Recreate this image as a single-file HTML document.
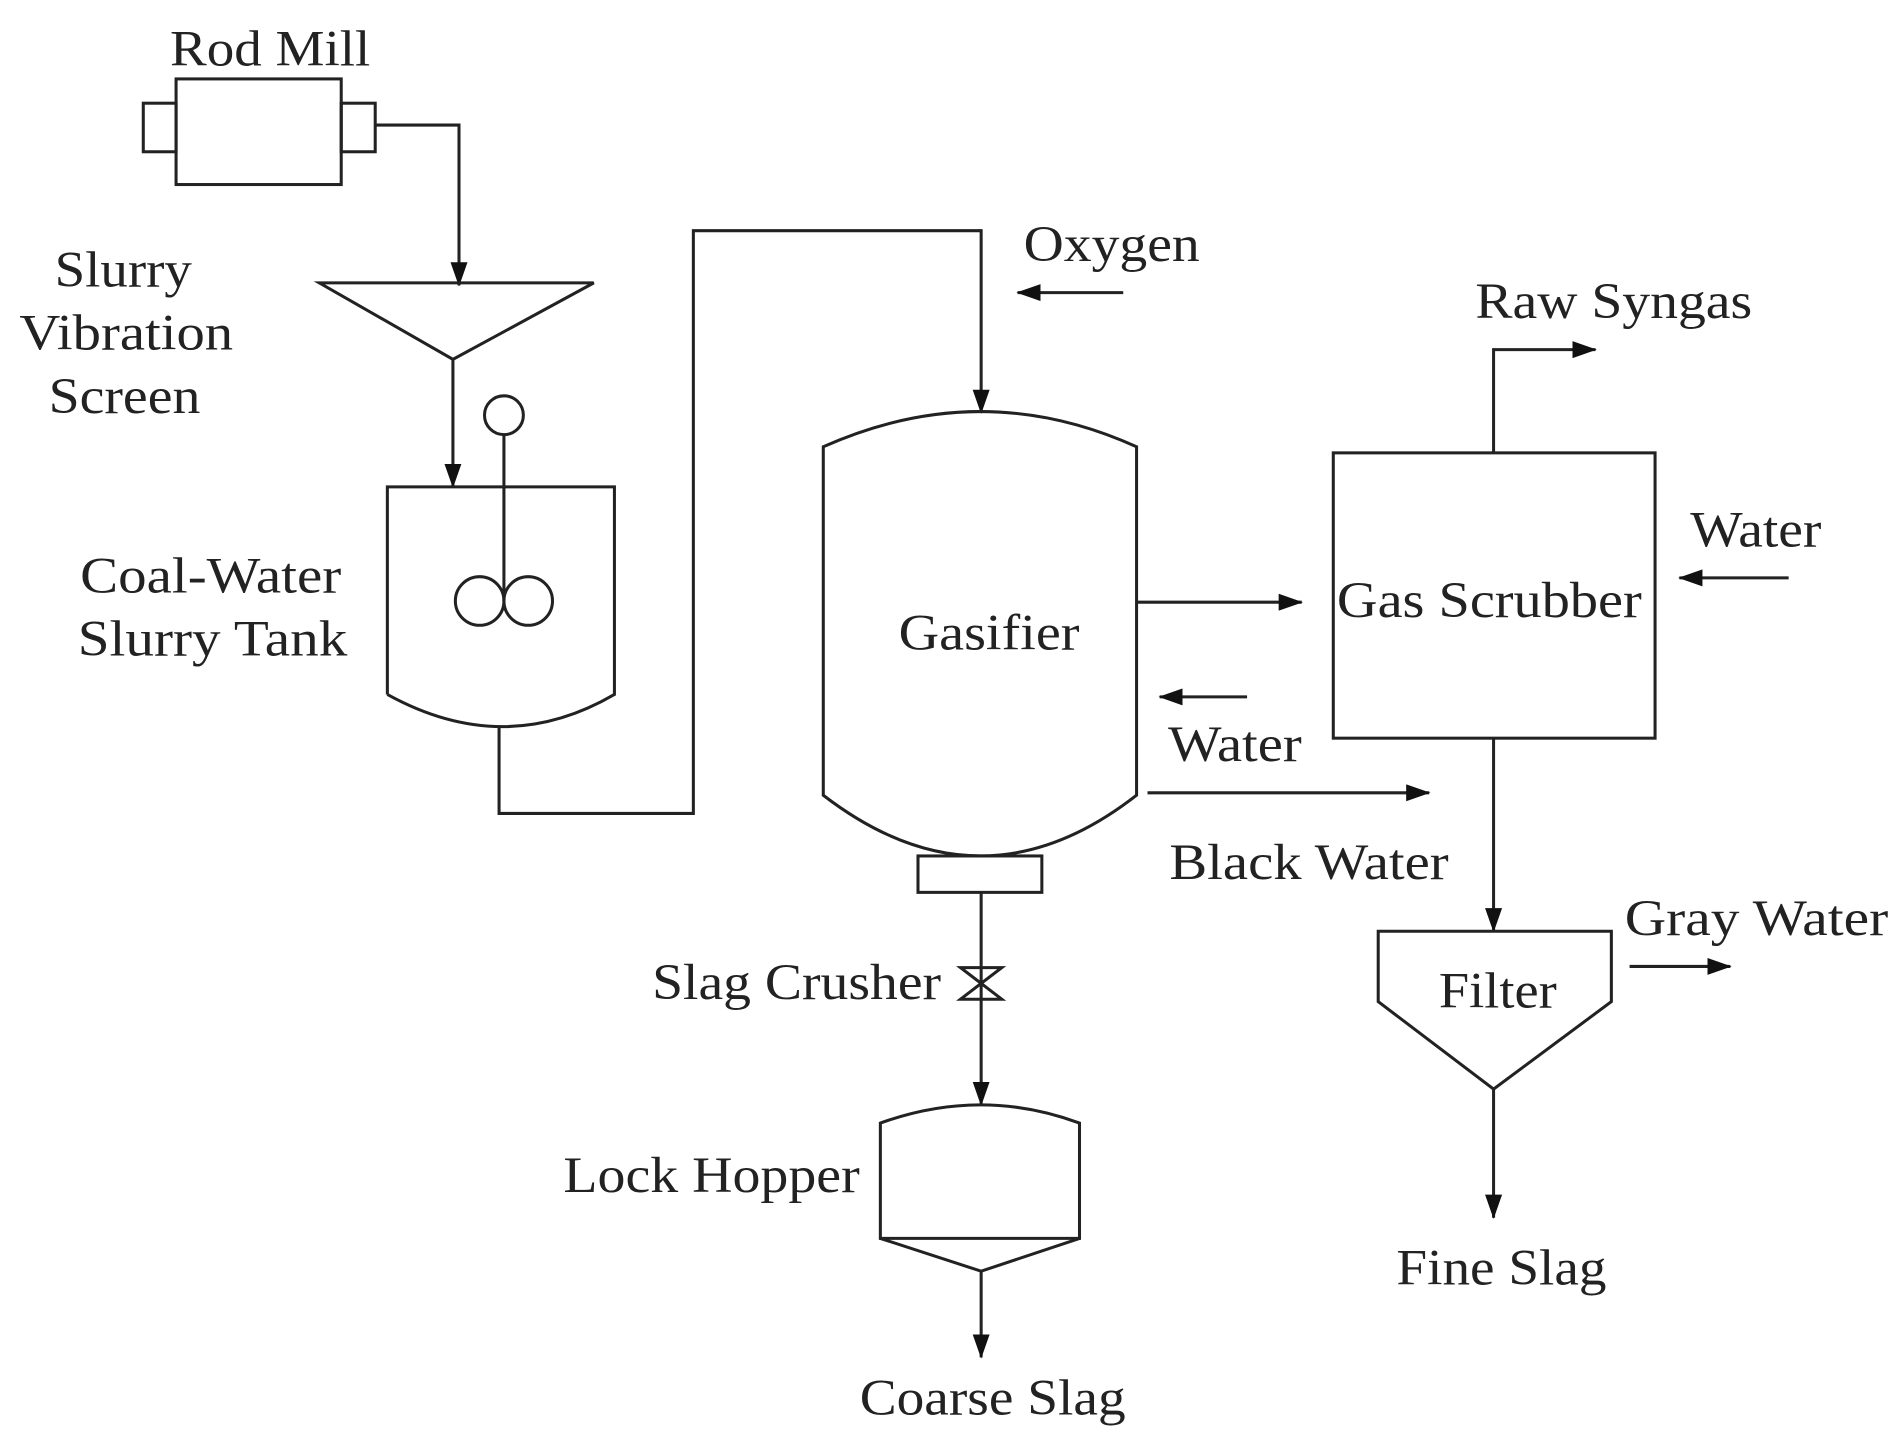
<!DOCTYPE html>
<html><head><style>html,body{margin:0;padding:0;background:#fff}svg{display:block}</style></head>
<body>
<svg width="1904" height="1446" viewBox="0 0 1568 1191" preserveAspectRatio="none" xmlns="http://www.w3.org/2000/svg">
<defs>
<marker id="b" markerWidth="20" markerHeight="14" refX="19" refY="7" orient="auto" markerUnits="userSpaceOnUse"><path d="M0,0L20,7L0,14z" fill="#111"/></marker></defs>
<g fill="none" stroke="#222" stroke-width="2.5">
<rect x="145" y="65" width="136" height="87"/>
<rect x="118" y="85" width="27" height="40"/>
<rect x="281" y="85" width="28" height="40"/>
<path d="M309,103H378V235" marker-end="url(#b)"/>
<path d="M263,233H489L373,296Z"/>
<path d="M373,296V401" marker-end="url(#b)"/>
<path d="M319,572V401H506V572Q415,625 319,572"/>
<circle cx="415" cy="342" r="16"/>
<path d="M415,358V495"/>
<circle cx="395" cy="495" r="20"/><circle cx="435" cy="495" r="20"/>
<path d="M411,598V670H571V190H808V340" marker-end="url(#b)"/>
<path d="M925,241H838" marker-end="url(#b)"/>
<path d="M678,368Q808,310 936,368V655Q808,755 678,655Z"/>
<rect x="756" y="705" width="102" height="30"/>
<path d="M808,735V910" marker-end="url(#b)"/>
<path d="M791,797H825L791,823H825Z"/>
<path d="M725,1020V925Q808,895 889,925V1020Z"/>
<path d="M725,1020L808,1047L889,1020"/>
<path d="M808,1047V1118" marker-end="url(#b)"/>
<path d="M936,496H1072" marker-end="url(#b)"/>
<path d="M1027,574H955" marker-end="url(#b)"/>
<path d="M945,653H1177" marker-end="url(#b)"/>
<rect x="1098" y="373" width="265" height="235"/>
<path d="M1230,373V288H1314" marker-end="url(#b)"/>
<path d="M1473,476H1383" marker-end="url(#b)"/>
<path d="M1230,608V767" marker-end="url(#b)"/>
<path d="M1135,767H1327V825L1230,897L1135,825Z"/>
<path d="M1342,796H1425" marker-end="url(#b)"/>
<path d="M1230,897V1003" marker-end="url(#b)"/>
</g>
<g font-family="Liberation Serif, serif" font-size="42" fill="#222">
<text x="140" y="54" textLength="165" lengthAdjust="spacingAndGlyphs">Rod Mill</text>
<text x="45" y="236" textLength="113" lengthAdjust="spacingAndGlyphs">Slurry</text>
<text x="16" y="288" textLength="176" lengthAdjust="spacingAndGlyphs">Vibration</text>
<text x="40" y="340" textLength="125" lengthAdjust="spacingAndGlyphs">Screen</text>
<text x="66" y="488" textLength="215" lengthAdjust="spacingAndGlyphs">Coal-Water</text>
<text x="64" y="540" textLength="222" lengthAdjust="spacingAndGlyphs">Slurry Tank</text>
<text x="843" y="215" textLength="145" lengthAdjust="spacingAndGlyphs">Oxygen</text>
<text x="740" y="535" textLength="149" lengthAdjust="spacingAndGlyphs">Gasifier</text>
<text x="962" y="627" textLength="110" lengthAdjust="spacingAndGlyphs">Water</text>
<text x="963" y="724" textLength="230" lengthAdjust="spacingAndGlyphs">Black Water</text>
<text x="537" y="823" textLength="238" lengthAdjust="spacingAndGlyphs">Slag Crusher</text>
<text x="464" y="982" textLength="244" lengthAdjust="spacingAndGlyphs">Lock Hopper</text>
<text x="708" y="1165" textLength="219" lengthAdjust="spacingAndGlyphs">Coarse Slag</text>
<text x="1215" y="262" textLength="228" lengthAdjust="spacingAndGlyphs">Raw Syngas</text>
<text x="1392" y="450" textLength="108" lengthAdjust="spacingAndGlyphs">Water</text>
<text x="1101" y="508" textLength="251" lengthAdjust="spacingAndGlyphs">Gas Scrubber</text>
<text x="1338" y="770" textLength="217" lengthAdjust="spacingAndGlyphs">Gray Water</text>
<text x="1185" y="830" textLength="97" lengthAdjust="spacingAndGlyphs">Filter</text>
<text x="1150" y="1058" textLength="173" lengthAdjust="spacingAndGlyphs">Fine Slag</text>
</g>
</svg>
</body></html>
